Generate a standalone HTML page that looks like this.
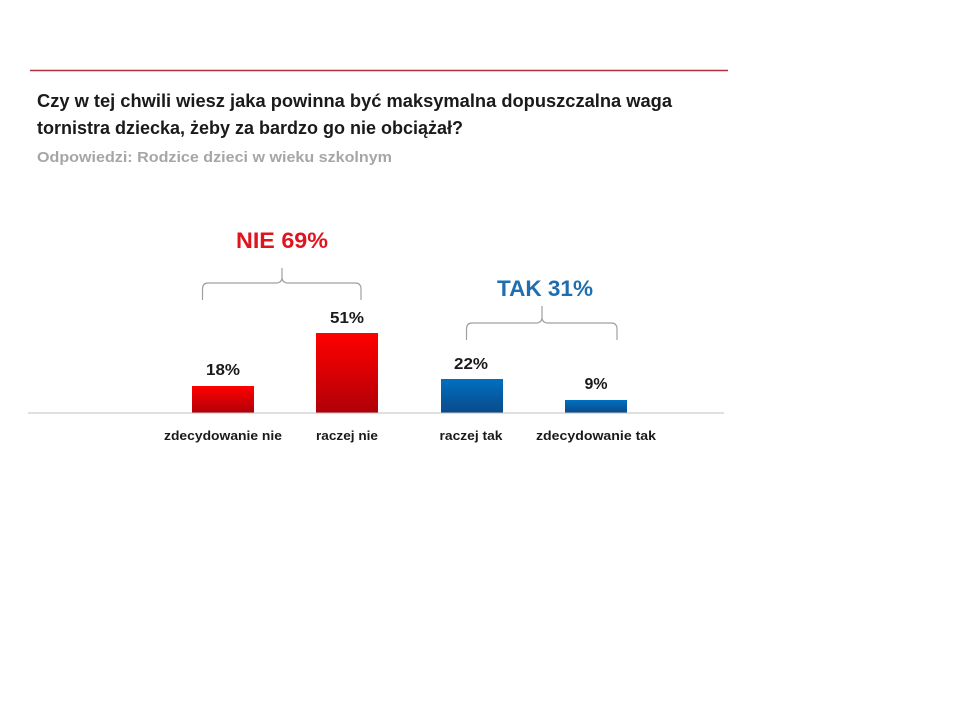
<!DOCTYPE html>
<html><head><meta charset="utf-8"><style>html,body{margin:0;padding:0;background:#fff}svg{display:block}</style></head>
<body>
<svg width="960" height="720" viewBox="0 0 960 720" xmlns="http://www.w3.org/2000/svg" font-family="Liberation Sans, sans-serif" font-weight="bold">
<defs>
<linearGradient id="r" x1="0" y1="0" x2="0" y2="1"><stop offset="0" stop-color="#ff0000"/><stop offset="1" stop-color="#b00008"/></linearGradient>
<linearGradient id="b" x1="0" y1="0" x2="0" y2="1"><stop offset="0" stop-color="#0070c0"/><stop offset="1" stop-color="#0a4a8a"/></linearGradient>
</defs>
<line x1="30" y1="70.5" x2="728" y2="70.5" stroke="#b03040" stroke-width="1.5"/>
<text x="37" y="107" font-size="18.5" fill="#1a1a1a" textLength="635" lengthAdjust="spacingAndGlyphs">Czy w tej chwili wiesz jaka powinna być maksymalna dopuszczalna waga</text>
<text x="37" y="134" font-size="18.5" fill="#1a1a1a" textLength="426" lengthAdjust="spacingAndGlyphs">tornistra dziecka, żeby za bardzo go nie obciążał?</text>
<text x="37" y="162" font-size="15" fill="#a6a6a6" textLength="355" lengthAdjust="spacingAndGlyphs">Odpowiedzi: Rodzice dzieci w wieku szkolnym</text>
<text x="282" y="248" font-size="22" fill="#e0141e" text-anchor="middle" textLength="92" lengthAdjust="spacingAndGlyphs">NIE 69%</text>
<text x="545" y="296" font-size="22" fill="#1f6fb0" text-anchor="middle" textLength="96" lengthAdjust="spacingAndGlyphs">TAK 31%</text>
<path d="M202.5 300 V289 Q202.5 283 208 283 H276 Q282 283 282 277 V268 M282 277 Q282 283 288 283 H355 Q361 283 361 289 V300" fill="none" stroke="#a0a0a0" stroke-width="1.2"/>
<path d="M466.5 340 V329 Q466.5 323 472 323 H536 Q542 323 542 317 V306 M542 317 Q542 323 548 323 H611 Q617 323 617 329 V340" fill="none" stroke="#a0a0a0" stroke-width="1.2"/>
<rect x="192" y="386" width="62" height="27" fill="url(#r)"/>
<rect x="316" y="333" width="62" height="80" fill="url(#r)"/>
<rect x="441" y="379" width="62" height="34" fill="url(#b)"/>
<rect x="565" y="400" width="62" height="13" fill="url(#b)"/>
<line x1="28" y1="413" x2="724" y2="413" stroke="#c0c0c0" stroke-width="1"/>
<g font-size="15.5" fill="#1a1a1a" text-anchor="middle">
<text x="223" y="375" textLength="34" lengthAdjust="spacingAndGlyphs">18%</text>
<text x="347" y="323" textLength="34" lengthAdjust="spacingAndGlyphs">51%</text>
<text x="471" y="369" textLength="34" lengthAdjust="spacingAndGlyphs">22%</text>
<text x="596" y="389" textLength="23" lengthAdjust="spacingAndGlyphs">9%</text>
</g>
<g font-size="13" fill="#1a1a1a" text-anchor="middle">
<text x="223" y="440" textLength="118" lengthAdjust="spacingAndGlyphs">zdecydowanie nie</text>
<text x="347" y="440" textLength="62" lengthAdjust="spacingAndGlyphs">raczej nie</text>
<text x="471" y="440" textLength="63" lengthAdjust="spacingAndGlyphs">raczej tak</text>
<text x="596" y="440" textLength="120" lengthAdjust="spacingAndGlyphs">zdecydowanie tak</text>
</g>
</svg>
</body></html>
